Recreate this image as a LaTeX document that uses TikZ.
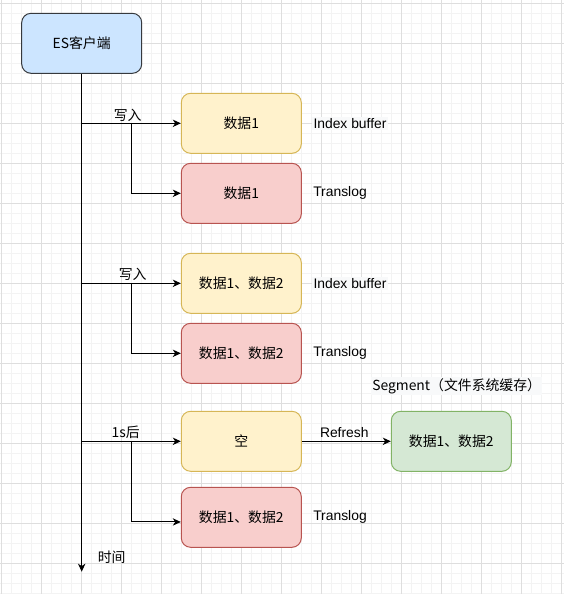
\documentclass[tikz,border=0pt]{standalone}
\usepackage{fontspec}
\setmainfont{Liberation Sans}
\newfontfamily\cjk{Noto Sans CJK SC}
\usetikzlibrary{arrows.meta}

\definecolor{gridminor}{RGB}{243,243,243}
\definecolor{gridmajor}{RGB}{222,222,222}
\definecolor{esfill}{RGB}{204,229,255}
\definecolor{esline}{RGB}{54,57,61}
\definecolor{buffill}{RGB}{255,242,204}
\definecolor{bufline}{RGB}{214,182,86}
\definecolor{logfill}{RGB}{248,206,204}
\definecolor{logline}{RGB}{184,84,80}
\definecolor{segfill}{RGB}{213,232,212}
\definecolor{segline}{RGB}{130,179,102}
\definecolor{labelbg}{RGB}{248,249,250}

\tikzset{every picture/.style={line width=0.75pt}}
\tikzset{
	box/.style={rounded corners=7pt, minimum width=90pt, minimum height=45pt, line width=0.75pt, font=\fontsize{10.4}{12.5}\selectfont\cjk},
	esbox/.style={box, fill=esfill, draw=esline},
	bufbox/.style={box, fill=buffill, draw=bufline},
	logbox/.style={box, fill=logfill, draw=logline},
	segbox/.style={box, fill=segfill, draw=segline},
	lbl/.style={inner sep=1pt, font=\fontsize{10.4}{12.5}\selectfont},
	cjklbl/.style={lbl, font=\fontsize{10.4}{12.5}\selectfont\cjk},
	flow/.style={-{Stealth[length=6pt,width=5.5pt,inset=1.8pt]}}
}

\begin{document}
\begin{tikzpicture}[x=0.75pt,y=0.75pt,yscale=-1,xscale=1]
	\useasboundingbox (0,0) rectangle (564,594);

	% grid background
	\foreach \gx in {1.7,11.7,...,561.7} \draw[gridminor, line width=0.5pt] (\gx,0) -- (\gx,594);
	\foreach \gy in {3.3,13.3,...,593.3} \draw[gridminor, line width=0.5pt] (0,\gy) -- (564,\gy);
	\foreach \gx in {1.7,41.7,...,561.7} \draw[gridmajor, line width=0.5pt] (\gx,0) -- (\gx,594);
	\foreach \gy in {3.3,43.3,...,583.3} \draw[gridmajor, line width=0.5pt] (0,\gy) -- (564,\gy);

	% client
	\node[esbox] (es) at (81.7,43.3) {ES客户端};

	% first write
	\node[bufbox] (buf1) at (241.3,123.3) {数据1};
	\node[logbox] (log1) at (241.3,193.3) {数据1};
	% second write
	\node[bufbox] (buf2) at (241.3,283.3) {数据1、数据2};
	\node[logbox] (log2) at (241.3,353.3) {数据1、数据2};
	% after refresh
	\node[bufbox] (emp) at (241.3,441.3) {空};
	\node[logbox] (log3) at (241.3,517.3) {数据1、数据2};
	\node[segbox] (seg) at (451.3,441.3) {数据1、数据2};

	% branch points
	\coordinate (br1) at (131.7,123.3);
	\coordinate (br2) at (131.3,283.3);
	\coordinate (br3) at (131.3,441.3);
	\coordinate (tend) at (81.7,571.7);

	% timeline
	\draw[flow] (es.south) -- (tend);
	\draw[flow] (es.south |- buf1.west) -- (buf1.west);
	\draw[flow] (br1) |- (log1.west);
	\draw[flow] (es.south |- buf2.west) -- (buf2.west);
	\draw[flow] (br2) |- (log2.west);
	\draw[flow] (es.south |- emp.west) -- (emp.west);
	\draw[flow] (br3) |- ([yshift=3.5pt]log3.west);
	\draw[flow] (emp.east) -- (seg.west);

	% Text Node
	\node[cjklbl] (w1) at (127.7,115) {写入};
	\node[cjklbl] (w2) at (132.7,274.3) {写入};
	\node[cjklbl] (w3) at (125.7,432.3) {1s后};
	\node[lbl] (rf) at (344.3,432.3) {Refresh};
	\node[cjklbl] (tm) at (111.7,557.3) {时间};
	\node[lbl, fill=labelbg] (ib1) at (350,123.3) {Index buffer};
	\node[lbl, fill=labelbg] (ib2) at (350,283.3) {Index buffer};
	\node[lbl] (tl1) at (340,193.3) {Translog};
	\node[lbl] (tl2) at (340,353.3) {Translog};
	\node[lbl] (tl3) at (340,517.3) {Translog};
	\node[cjklbl, fill=labelbg] (sg) at (456.7,386) {Segment（文件系统缓存）};

\end{tikzpicture}
\end{document}
